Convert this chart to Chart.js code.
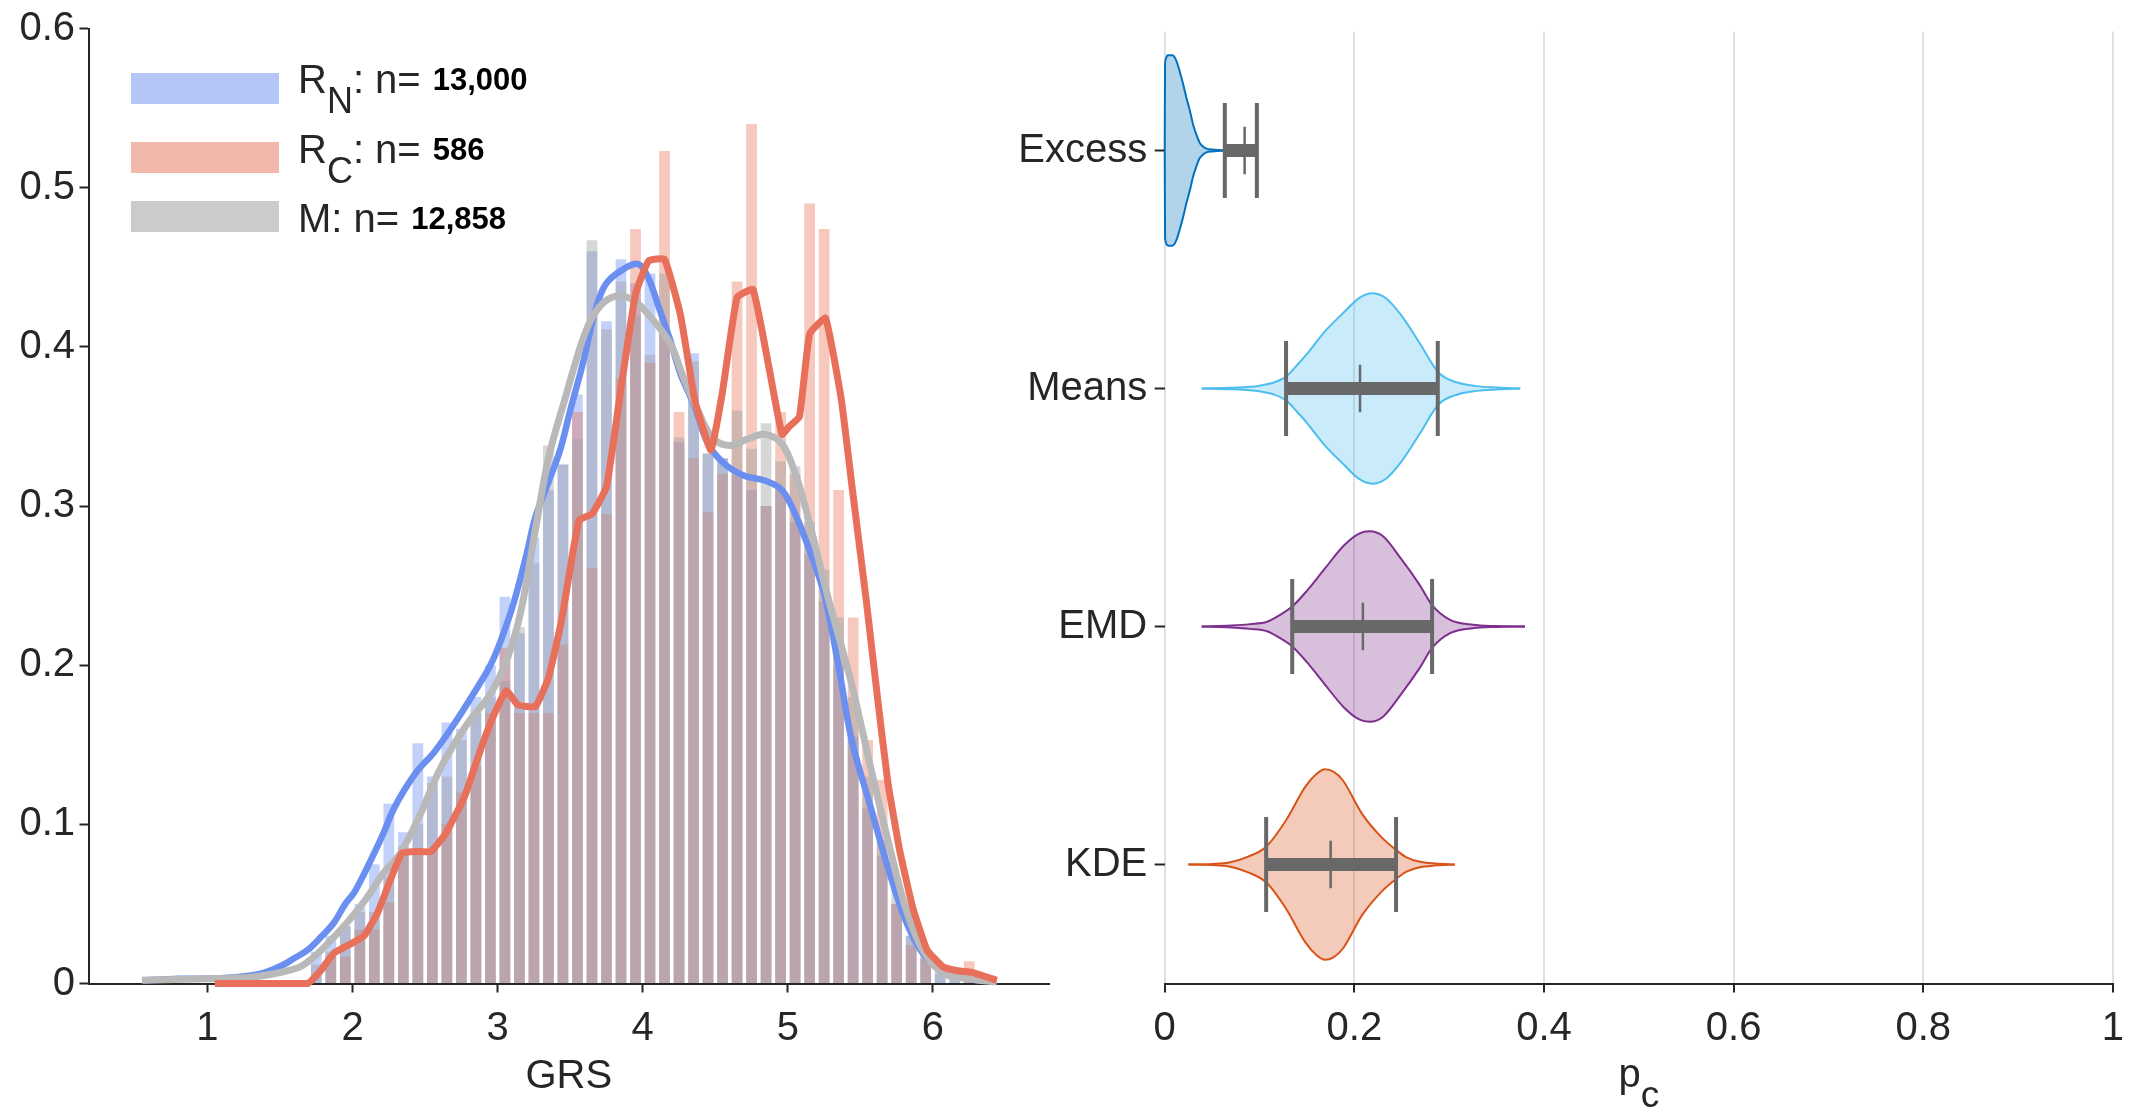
<!DOCTYPE html>
<html>
<head>
<meta charset="utf-8">
<title>GRS histogram and p_c violins</title>
<script src="https://cdn.jsdelivr.net/npm/chart.js@4.4.1/dist/chart.umd.min.js"></script>
<style>
  html, body { margin: 0; padding: 0; background: #fff; }
  #wrap { position: relative; width: 2136px; height: 1113px; }
  #left { position: absolute; left: 0; top: 0; }
  #right { position: absolute; left: 1000px; top: 0; }
</style>
</head>
<body>
<div id="wrap">
  <canvas id="left" width="1060" height="1113" style="width:1060px;height:1113px"></canvas>
  <canvas id="right" width="1136" height="1113" style="width:1136px;height:1113px"></canvas>
</div>
<script>
// ---- left panel: GRS histograms ----
const binCenters = [1.75,1.85,1.95,2.05,2.15,2.25,2.35,2.45,2.55,2.65,2.75,2.85,2.95,3.05,3.15,3.25,3.35,3.45,3.55,3.65,3.75,3.85,3.95,4.05,4.15,4.25,4.35,4.45,4.55,4.65,4.75,4.85,4.95,5.05,5.15,5.25,5.35,5.45,5.55,5.65,5.75,5.85,5.95,6.05,6.15,6.25];
const histN = [0.020,0.030,0.036,0.050,0.075,0.113,0.095,0.151,0.130,0.164,0.160,0.180,0.200,0.243,0.220,0.280,0.310,0.326,0.370,0.460,0.416,0.455,0.440,0.446,0.410,0.340,0.396,0.333,0.330,0.320,0.310,0.300,0.310,0.290,0.270,0.240,0.200,0.155,0.110,0.080,0.050,0.030,0.017,0.008,0.004,0.002];
const histC = [0,0.017,0.017,0.034,0.034,0.051,0.085,0.085,0.085,0.100,0.120,0.137,0.170,0.211,0.170,0.170,0.170,0.213,0.359,0.261,0.295,0.380,0.474,0.390,0.523,0.359,0.330,0.296,0.320,0.441,0.540,0.300,0.359,0.320,0.490,0.474,0.310,0.230,0.153,0.128,0.050,0.024,0.017,0,0,0.014];
const histM = [0.012,0.020,0.036,0.045,0.045,0.067,0.086,0.100,0.126,0.130,0.153,0.170,0.180,0.190,0.224,0.264,0.338,0.326,0.342,0.467,0.411,0.441,0.420,0.395,0.446,0.343,0.391,0.333,0.330,0.360,0.336,0.352,0.328,0.325,0.290,0.260,0.230,0.180,0.130,0.090,0.060,0.030,0.015,0.006,0.003,0.001];

// smoothed density curves
const kdeNx = [0.55,0.8,1.0,1.2,1.3,1.4,1.52,1.6,1.69,1.78,1.87,1.95,2.01,2.08,2.15,2.22,2.28,2.36,2.45,2.56,2.70,2.86,2.95,3.02,3.11,3.2,3.26,3.35,3.43,3.5,3.58,3.68,3.75,3.87,3.97,4.04,4.11,4.19,4.26,4.36,4.45,4.57,4.70,4.84,4.96,5.06,5.15,5.25,5.35,5.44,5.57,5.69,5.81,5.93,6.07,6.24,6.44];
const kdeNy = [0.002,0.003,0.003,0.004,0.005,0.007,0.0116,0.016,0.021,0.029,0.038,0.050,0.057,0.069,0.082,0.096,0.109,0.122,0.134,0.145,0.163,0.186,0.200,0.215,0.239,0.270,0.293,0.315,0.335,0.360,0.387,0.425,0.440,0.449,0.452,0.443,0.425,0.404,0.383,0.362,0.339,0.326,0.319,0.316,0.310,0.293,0.272,0.245,0.199,0.153,0.111,0.073,0.040,0.019,0.008,0.003,0.001];
const kdeMx = [0.55,1.0,1.3,1.45,1.55,1.64,1.75,1.87,1.96,2.05,2.13,2.21,2.33,2.47,2.61,2.79,2.95,3.07,3.16,3.26,3.35,3.46,3.60,3.70,3.82,3.94,4.06,4.19,4.28,4.38,4.48,4.60,4.72,4.84,4.96,5.06,5.15,5.27,5.36,5.44,5.57,5.69,5.81,5.93,6.07,6.24,6.44];
const kdeMy = [0.002,0.003,0.004,0.006,0.008,0.0105,0.018,0.029,0.038,0.048,0.058,0.069,0.082,0.107,0.136,0.163,0.182,0.205,0.234,0.285,0.330,0.366,0.408,0.425,0.432,0.429,0.418,0.402,0.381,0.360,0.343,0.338,0.342,0.345,0.339,0.318,0.289,0.245,0.215,0.188,0.136,0.090,0.048,0.021,0.0064,0.003,0.001];
const kdeCx = [1.05,1.4,1.69,1.78,1.87,1.99,2.08,2.17,2.26,2.34,2.44,2.54,2.64,2.77,2.89,2.98,3.06,3.14,3.26,3.35,3.44,3.56,3.65,3.75,3.85,3.95,4.04,4.15,4.26,4.36,4.47,4.55,4.65,4.76,4.87,4.96,5.01,5.08,5.15,5.26,5.37,5.44,5.54,5.62,5.69,5.77,5.86,5.96,6.07,6.17,6.27,6.44];
const kdeCy = [0,0,0,0.008,0.019,0.025,0.030,0.044,0.065,0.082,0.083,0.083,0.094,0.117,0.149,0.170,0.184,0.175,0.174,0.192,0.228,0.291,0.295,0.312,0.374,0.433,0.454,0.455,0.420,0.366,0.335,0.372,0.431,0.436,0.387,0.345,0.350,0.356,0.408,0.418,0.366,0.314,0.241,0.178,0.126,0.084,0.048,0.021,0.0105,0.008,0.007,0.002];

const xTicksLeft = [1, 2, 3, 4, 5, 6];
const yTicksLeft = [0, 0.1, 0.2, 0.3, 0.4, 0.5, 0.6];

const legendMain = ["R", "R", "M"];
const legendSub = ["N", "C", ""];
const legendCount = ["13,000", "586", "12,858"];

// ---- right panel: p_c violins ----
const methods = ["Excess", "Means", "EMD", "KDE"];
const excessP = [0,0.0004,0.004,0.008,0.012,0.016,0.02,0.023,0.027,0.03,0.034,0.037,0.041,0.044,0.05,0.056,0.0634];
const excessW = [0,0.37,0.40,0.40,0.38,0.33,0.27,0.22,0.16,0.108,0.06,0.032,0.015,0.008,0.004,0.002,0.001];
const meansP = [0.039,0.07,0.09,0.10,0.115,0.128,0.14,0.149,0.169,0.189,0.205,0.219,0.233,0.249,0.269,0.289,0.309,0.329,0.35,0.375];
const meansW = [0,0.003,0.007,0.012,0.025,0.05,0.10,0.14,0.24,0.32,0.38,0.40,0.38,0.31,0.19,0.066,0.025,0.01,0.004,0];
const emdP = [0.039,0.07,0.09,0.108,0.12,0.1345,0.15,0.169,0.189,0.205,0.216,0.23,0.249,0.269,0.282,0.301,0.325,0.35,0.38];
const emdW = [0,0.004,0.01,0.02,0.045,0.084,0.15,0.244,0.34,0.39,0.40,0.38,0.286,0.174,0.09,0.028,0.007,0.002,0];
const kdeP = [0.025,0.05,0.068,0.088,0.107,0.128,0.148,0.16,0.169,0.178,0.188,0.208,0.228,0.244,0.255,0.268,0.285,0.306];
const kdeW = [0,0.002,0.008,0.033,0.075,0.186,0.325,0.38,0.40,0.39,0.353,0.214,0.117,0.061,0.03,0.0125,0.004,0];
const boxQ1 = [0.0634, 0.128, 0.1345, 0.107];
const boxMed = [0.0843, 0.206, 0.209, 0.175];
const boxQ3 = [0.0972, 0.288, 0.282, 0.244];
const xTicksRight = [0, 0.2, 0.4, 0.6, 0.8, 1];

const violinP = [excessP, meansP, emdP, kdeP];
const violinW = [excessW, meansW, emdW, kdeW];
const violinStroke = ["#0072bd", "#4dbeee", "#7e2f8e", "#d95319"];
const violinFill = ["rgba(0,114,189,0.3)", "rgba(77,190,238,0.3)", "rgba(126,47,142,0.3)", "rgba(217,83,25,0.3)"];

const ink = "#262626";
const fam = "'Liberation Sans', Arial, Helvetica, sans-serif";
Chart.defaults.font.family = fam;
Chart.defaults.font.size = 40;
Chart.defaults.color = ink;

const toXY = (xs, ys) => xs.map((x, i) => ({ x: x, y: ys[i] }));

// legend with subscripts, drawn on the canvas
const grsLegend = {
  id: "grsLegend",
  afterDraw(chart) {
    const ctx = chart.ctx;
    const patch = ["#b4c6f6", "#f2b8aa", "#cbcbcb"];
    const patchY = [88, 157, 216];
    const baseY = [93, 163, 232];
    ctx.save();
    ctx.textBaseline = "alphabetic";
    ctx.textAlign = "left";
    for (let i = 0; i < 3; i++) {
      ctx.fillStyle = patch[i];
      ctx.fillRect(131, patchY[i] - 15, 148, 31);
      ctx.fillStyle = ink;
      let x = 298;
      ctx.font = "40px " + fam;
      ctx.fillText(legendMain[i], x, baseY[i]);
      x += ctx.measureText(legendMain[i]).width;
      if (legendSub[i]) {
        ctx.font = "36px " + fam;
        ctx.fillText(legendSub[i], x, baseY[i] + 20);
        x += ctx.measureText(legendSub[i]).width;
      }
      ctx.font = "40px " + fam;
      ctx.fillText(": n=", x, baseY[i]);
      x += ctx.measureText(": n=").width + 12;
      ctx.fillStyle = "#000";
      ctx.font = "bold 31px " + fam;
      ctx.fillText(legendCount[i], x, baseY[i] - 3);
    }
    ctx.restore();
  }
};

// x title p with subscript c
const pcTitle = {
  id: "pcTitle",
  afterDraw(chart) {
    const ctx = chart.ctx;
    const a = chart.chartArea;
    ctx.save();
    ctx.fillStyle = ink;
    ctx.textBaseline = "alphabetic";
    ctx.textAlign = "left";
    ctx.font = "40px " + fam;
    const wp = ctx.measureText("p").width;
    ctx.font = "37px " + fam;
    const wc = ctx.measureText("c").width;
    const x0 = (a.left + a.right) / 2 - (wp + wc) / 2;
    const y0 = a.bottom + 103;
    ctx.font = "40px " + fam;
    ctx.fillText("p", x0, y0);
    ctx.font = "37px " + fam;
    ctx.fillText("c", x0 + wp, y0 + 20);
    ctx.restore();
  }
};

const lineStyle = { pointRadius: 0, borderWidth: 7, fill: false, clip: false, type: "line" };
const barStyle = { grouped: false, barPercentage: 0.74, categoryPercentage: 1 };

new Chart(document.getElementById("left"), {
  type: "bar",
  data: {
    datasets: [
      Object.assign({ label: "R_C curve", data: toXY(kdeCx, kdeCy), borderColor: "#e8705a", tension: 0.12, order: 0 }, lineStyle),
      Object.assign({ label: "M curve", data: toXY(kdeMx, kdeMy), borderColor: "#b9b9b9", tension: 0.35, order: 1 }, lineStyle),
      Object.assign({ label: "R_N curve", data: toXY(kdeNx, kdeNy), borderColor: "#6b8ff0", tension: 0.35, order: 2 }, lineStyle, { borderWidth: 6.5 }),
      Object.assign({ label: "M", data: toXY(binCenters, histM), backgroundColor: "rgba(155,155,155,0.40)", order: 3 }, barStyle),
      Object.assign({ label: "R_C", data: toXY(binCenters, histC), backgroundColor: "rgba(232,110,85,0.38)", order: 4 }, barStyle),
      Object.assign({ label: "R_N", data: toXY(binCenters, histN), backgroundColor: "rgba(100,140,240,0.40)", order: 5 }, barStyle)
    ]
  },
  options: {
    responsive: false,
    animation: false,
    events: [],
    layout: { padding: { left: 0, right: 11, top: 27, bottom: 0 } },
    plugins: { legend: { display: false }, tooltip: { enabled: false } },
    scales: {
      x: {
        type: "linear",
        min: 0.18,
        max: 6.8,
        offset: false,
        afterBuildTicks: (s) => { s.ticks = xTicksLeft.map((v) => ({ value: v })); },
        afterFit: (s) => { s.height = 129.5; },
        grid: { display: true, offset: false, drawOnChartArea: false, drawTicks: true, tickLength: 9, tickWidth: 2, tickColor: ink },
        border: { display: true, color: ink, width: 2 },
        ticks: { padding: 12, maxRotation: 0, autoSkip: false, callback: (v) => String(v) },
        title: { display: true, text: "GRS", padding: { top: 0, bottom: 12 } }
      },
      y: {
        min: 0,
        max: 0.6,
        afterBuildTicks: (s) => { s.ticks = yTicksLeft.map((v) => ({ value: v })); },
        afterFit: (s) => { s.width = 88.5; },
        grid: { display: true, drawOnChartArea: false, drawTicks: true, tickLength: 9, tickWidth: 2, tickColor: ink },
        border: { display: true, color: ink, width: 2 },
        ticks: { padding: 4.5, callback: (v) => String(v) }
      }
    }
  },
  plugins: [grsLegend]
});

// violins: outline pairs first (fill between neighbours), then boxes
const rightSets = [];
methods.forEach((m, i) => {
  const c = i + 1;
  const ps = violinP[i];
  const ws = violinW[i];
  rightSets.push({
    label: m + " top",
    data: ps.map((p, j) => ({ x: p, y: c - ws[j] })),
    borderColor: violinStroke[i],
    backgroundColor: violinFill[i],
    borderWidth: 2,
    pointRadius: 0,
    fill: "+1",
    cubicInterpolationMode: "monotone",
    clip: false,
    order: 10
  }, {
    label: m + " bottom",
    data: ps.map((p, j) => ({ x: p, y: c + ws[j] })),
    borderColor: violinStroke[i],
    borderWidth: 2,
    pointRadius: 0,
    fill: false,
    cubicInterpolationMode: "monotone",
    clip: false,
    order: 10
  });
});
const boxColor = "#686868";
methods.forEach((m, i) => {
  const c = i + 1;
  const seg = (label, pts, w) => ({ label: label, data: pts, borderColor: boxColor, borderWidth: w, borderCapStyle: "butt", pointRadius: 0, fill: false, tension: 0, clip: false, order: 1 });
  rightSets.push(
    seg(m + " iqr", [{ x: boxQ1[i], y: c }, { x: boxQ3[i], y: c }], 13),
    seg(m + " q1", [{ x: boxQ1[i], y: c - 0.2 }, { x: boxQ1[i], y: c + 0.2 }], 4),
    seg(m + " q3", [{ x: boxQ3[i], y: c - 0.2 }, { x: boxQ3[i], y: c + 0.2 }], 4),
    seg(m + " median", [{ x: boxMed[i], y: c - 0.1 }, { x: boxMed[i], y: c + 0.1 }], 2.5)
  );
});

new Chart(document.getElementById("right"), {
  type: "line",
  data: { datasets: rightSets },
  options: {
    responsive: false,
    animation: false,
    events: [],
    layout: { padding: { left: 0, right: 18, top: 27, bottom: 0 } },
    plugins: { legend: { display: false }, tooltip: { enabled: false } },
    scales: {
      x: {
        type: "linear",
        min: 0,
        max: 1,
        afterBuildTicks: (s) => { s.ticks = xTicksRight.map((v) => ({ value: v })); },
        afterFit: (s) => { s.height = 129.5; },
        grid: { display: true, drawOnChartArea: true, color: "#e0e0e0", lineWidth: 2, drawTicks: true, tickLength: 9, tickWidth: 2, tickColor: ink },
        border: { display: true, color: ink, width: 2 },
        ticks: { padding: 12, maxRotation: 0, autoSkip: false, callback: (v) => String(v) }
      },
      y: {
        type: "linear",
        min: 0.5,
        max: 4.5,
        reverse: true,
        afterBuildTicks: (s) => { s.ticks = [1, 2, 3, 4].map((v) => ({ value: v })); },
        afterFit: (s) => { s.width = 164.7; },
        grid: { display: true, drawOnChartArea: false, drawTicks: true, tickLength: 10, tickWidth: 2, tickColor: ink },
        border: { display: false },
        ticks: { padding: 7.5, callback: (v) => methods[v - 1] }
      }
    }
  },
  plugins: [pcTitle]
});
</script>
</body>
</html>
